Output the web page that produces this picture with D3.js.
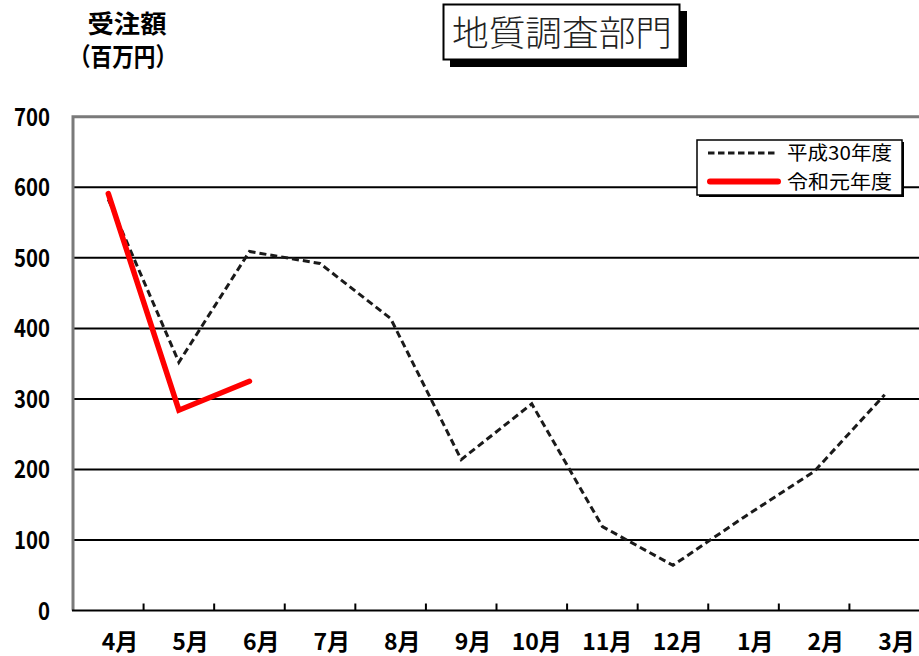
<!DOCTYPE html>
<html>
<head>
<meta charset="utf-8">
<script src="https://cdn.jsdelivr.net/npm/d3@7"></script>
<style>
  body { margin: 0; background: #fff; }
  svg { display: block; }
  text { font-family: "Noto Sans CJK JP", "Noto Sans", sans-serif; }
</style>
</head>
<body>
<div id="chart"></div>
<script>
const width = 919;
const height = 656;

// data
const months = ["4月", "5月", "6月", "7月", "8月", "9月", "10月", "11月", "12月", "1月", "2月", "3月"];
const h30 = [583, 352, 509, 492, 414, 214, 293, 119, 64, 132, 197, 306];
const r1 = [591, 284, 325];
const yTicks = [0, 100, 200, 300, 400, 500, 600, 700];
const seriesNames = ["平成30年度", "令和元年度"];

const svg = d3.select("#chart").append("svg")
    .attr("width", width)
    .attr("height", height);

const x = d3.scaleBand().domain(months).range([73, 920]);
const y = d3.scaleLinear().domain([0, 700]).range([610.5, 116.8]);
const cx = m => x(m) + x.bandwidth() / 2;

// title box with shadow
const title = svg.append("g");
title.append("rect").attr("x", 450).attr("y", 11).attr("width", 237).attr("height", 56).attr("fill", "#000");
title.append("rect").attr("x", 443.5).attr("y", 4.5).attr("width", 236).attr("height", 55)
    .attr("fill", "#fff").attr("stroke", "#000").attr("stroke-width", 2);
title.append("text").attr("x", 562).attr("y", 46).attr("text-anchor", "middle")
    .attr("font-size", 35).attr("font-weight", 300).attr("fill", "#222")
    .attr("textLength", 220).attr("lengthAdjust", "spacingAndGlyphs")
    .text("地質調査部門");

// y axis title
svg.append("text").attr("x", 127).attr("y", 33).attr("text-anchor", "middle")
    .attr("font-size", 25).attr("font-weight", "bold")
    .attr("textLength", 79).attr("lengthAdjust", "spacingAndGlyphs")
    .text("受注額");
svg.append("text").attr("x", 123).attr("y", 66).attr("text-anchor", "middle")
    .attr("font-size", 25).attr("font-weight", "bold")
    .attr("textLength", 108).attr("lengthAdjust", "spacingAndGlyphs")
    .text("（百万円）");

// gridlines
svg.append("g").selectAll("line")
    .data(yTicks.filter(d => d > 0 && d < 700))
    .join("line")
    .attr("x1", 73).attr("x2", 920)
    .attr("y1", d => y(d)).attr("y2", d => y(d))
    .attr("stroke", "#000").attr("stroke-width", 2);

// plot frame (top + left)
svg.append("path")
    .attr("d", `M920,${y(700)}H73V${y(0)}`)
    .attr("fill", "none").attr("stroke", "#7a7a7a").attr("stroke-width", 3);

// bottom axis
svg.append("line").attr("x1", 72).attr("x2", 920).attr("y1", y(0)).attr("y2", y(0))
    .attr("stroke", "#000").attr("stroke-width", 2);
svg.append("g").selectAll("line")
    .data(months.slice(1))
    .join("line")
    .attr("x1", d => x(d)).attr("x2", d => x(d))
    .attr("y1", y(0)).attr("y2", y(0) - 7)
    .attr("stroke", "#000").attr("stroke-width", 2);

// y tick labels
svg.append("g").selectAll("text")
    .data(yTicks)
    .join("text")
    .attr("x", 50).attr("y", d => y(d) + 9)
    .attr("text-anchor", "end")
    .attr("font-size", 24).attr("font-weight", "bold")
    .attr("textLength", d => String(d).length * 12)
    .attr("lengthAdjust", "spacingAndGlyphs")
    .text(d => d);

// x tick labels
svg.append("g").selectAll("text")
    .data(months)
    .join("text")
    .attr("x", d => cx(d) + 30).attr("y", 650)
    .attr("text-anchor", "end")
    .attr("font-size", 23).attr("font-weight", "bold")
    .text(d => d);

// lines
const line = d3.line().x((d, i) => cx(months[i])).y(d => y(d));

svg.append("path").datum(h30)
    .attr("d", line)
    .attr("fill", "none").attr("stroke", "#1a1a1a").attr("stroke-width", 3)
    .attr("stroke-dasharray", "7,4");

svg.append("path").datum(r1)
    .attr("d", line)
    .attr("fill", "none").attr("stroke", "#ff0000").attr("stroke-width", 5.5)
    .attr("stroke-linecap", "round").attr("stroke-linejoin", "miter");

// legend
const lg = svg.append("g");
lg.append("rect").attr("x", 699).attr("y", 142).attr("width", 205).attr("height", 55).attr("fill", "#000");
lg.append("rect").attr("x", 697).attr("y", 140).attr("width", 205).attr("height", 55)
    .attr("fill", "#fff").attr("stroke", "#000").attr("stroke-width", 1.5);
lg.append("line").attr("x1", 708).attr("x2", 778).attr("y1", 153).attr("y2", 153)
    .attr("stroke", "#1a1a1a").attr("stroke-width", 3).attr("stroke-dasharray", "6.5,3.5");
lg.append("line").attr("x1", 710).attr("x2", 778).attr("y1", 181.5).attr("y2", 181.5)
    .attr("stroke", "#ff0000").attr("stroke-width", 6).attr("stroke-linecap", "round");
lg.selectAll("text.lab")
    .data(seriesNames)
    .join("text")
    .attr("class", "lab")
    .attr("x", 787).attr("y", (d, i) => 160 + i * 28.5)
    .attr("font-size", 19)
    .attr("textLength", 105)
    .attr("lengthAdjust", "spacingAndGlyphs")
    .text(d => d);
</script>
</body>
</html>
